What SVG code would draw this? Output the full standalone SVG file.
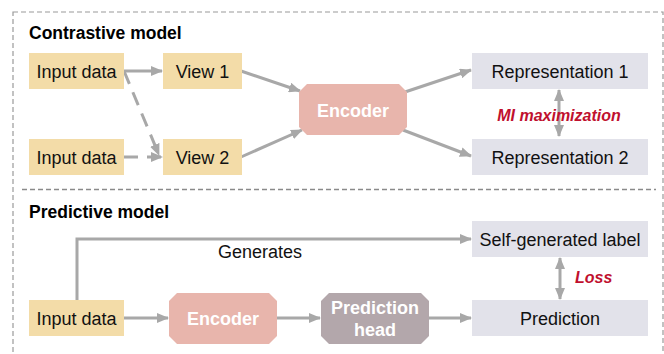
<svg xmlns="http://www.w3.org/2000/svg" width="664" height="354" viewBox="0 0 664 354">
<style>
.frame{fill:none;stroke:#9a9a9a;stroke-width:1.2;stroke-dasharray:5 3}
.div{fill:none;stroke:#8a8a8a;stroke-width:1.5;stroke-dasharray:5 3}
.title{font-family:"Liberation Sans",Arial,sans-serif;font-weight:bold;font-size:17.5px;fill:#000}
.lbl{font-family:"Liberation Sans",Arial,sans-serif;font-size:18px;fill:#111;text-anchor:middle}
.wlbl{font-family:"Liberation Sans",Arial,sans-serif;font-size:18px;font-weight:bold;fill:#fff;text-anchor:middle}
.red{font-family:"Liberation Sans",Arial,sans-serif;font-size:16px;font-weight:bold;font-style:italic;fill:#c0102e}
.inp{fill:#f3dca8}
.rep{fill:#e2e2ea}
.enc{fill:#e8b5ac}
.head{fill:#b3a7ab}
.arr{fill:none;stroke:#a8a8a8;stroke-width:3}
.dash{stroke-dasharray:14 9}
</style>
<defs>
<marker id="ah" viewBox="0 0 12 10" refX="11" refY="5" markerWidth="12" markerHeight="10" markerUnits="userSpaceOnUse" orient="auto-start-reverse">
<path d="M0,0 L12,5 L0,10 Z" fill="#a8a8a8"/>
</marker>
</defs>
<rect class="frame" x="13" y="12" width="650" height="360"/>
<line class="div" x1="22" y1="189.5" x2="656" y2="189.5"/>
<text class="title" x="29" y="39">Contrastive model</text>
<text class="title" x="29" y="218">Predictive model</text>

<g id="connectors">
<line class="arr" x1="124" y1="71" x2="162" y2="71" marker-end="url(#ah)"/>
<line class="arr dash" x1="124" y1="71" x2="159" y2="155" marker-end="url(#ah)"/>
<line class="arr dash" x1="124" y1="157" x2="162" y2="157" marker-end="url(#ah)"/>
<line class="arr" x1="241" y1="71" x2="300" y2="91" marker-end="url(#ah)"/>
<line class="arr" x1="241" y1="157" x2="302" y2="130" marker-end="url(#ah)"/>
<line class="arr" x1="405" y1="92" x2="471" y2="70" marker-end="url(#ah)"/>
<line class="arr" x1="403" y1="130" x2="471" y2="156" marker-end="url(#ah)"/>
<line class="arr" x1="559" y1="90" x2="559" y2="136" marker-start="url(#ah)" marker-end="url(#ah)"/>
<polyline class="arr" points="77,300 77,239 471,239" marker-end="url(#ah)"/>
<line class="arr" x1="124" y1="318" x2="168" y2="318" marker-end="url(#ah)"/>
<line class="arr" x1="277" y1="318" x2="320" y2="318" marker-end="url(#ah)"/>
<line class="arr" x1="429" y1="318" x2="471" y2="318" marker-end="url(#ah)"/>
<line class="arr" x1="560" y1="258" x2="560" y2="299" marker-start="url(#ah)" marker-end="url(#ah)"/>
<text class="lbl" x="260" y="258">Generates</text>
<text class="red" x="559" y="121" text-anchor="middle">MI maximization</text>
<text class="red" x="575" y="283">Loss</text>
</g>

<g id="input1"><rect class="inp" x="29" y="53" width="95" height="36"/><text class="lbl" x="76.5" y="77.5">Input data</text></g>
<g id="view1"><rect class="inp" x="163" y="53" width="79" height="36"/><text class="lbl" x="202.5" y="77.5">View 1</text></g>
<g id="input2"><rect class="inp" x="29" y="139" width="95" height="36"/><text class="lbl" x="76.5" y="163.5">Input data</text></g>
<g id="view2"><rect class="inp" x="163" y="139" width="79" height="36"/><text class="lbl" x="202.5" y="163.5">View 2</text></g>
<g id="encoder1"><polygon class="enc" points="307,84 399,84 407,92 407,127 399,135 307,135 299,127 299,92"/><text class="wlbl" x="353" y="116.5">Encoder</text></g>
<g id="rep1"><rect class="rep" x="472" y="53" width="176" height="36"/><text class="lbl" x="560" y="77.5">Representation 1</text></g>
<g id="rep2"><rect class="rep" x="472" y="139" width="176" height="36"/><text class="lbl" x="560" y="163.5">Representation 2</text></g>

<g id="input3"><rect class="inp" x="29" y="300" width="95" height="36"/><text class="lbl" x="76.5" y="324.5">Input data</text></g>
<g id="encoder2"><polygon class="enc" points="177,293 269,293 277,301 277,336 269,344 177,344 169,336 169,301"/><text class="wlbl" x="223" y="325">Encoder</text></g>
<g id="predhead"><polygon class="head" points="329,293 421,293 429,301 429,336 421,344 329,344 321,336 321,301"/><text class="wlbl" x="375" y="314">Prediction</text><text class="wlbl" x="375" y="336">head</text></g>
<g id="selflabel"><rect class="rep" x="472" y="221" width="176" height="36"/><text class="lbl" x="560" y="245.5">Self-generated label</text></g>
<g id="prediction"><rect class="rep" x="472" y="300" width="176" height="36"/><text class="lbl" x="560" y="324.5">Prediction</text></g>
</svg>
